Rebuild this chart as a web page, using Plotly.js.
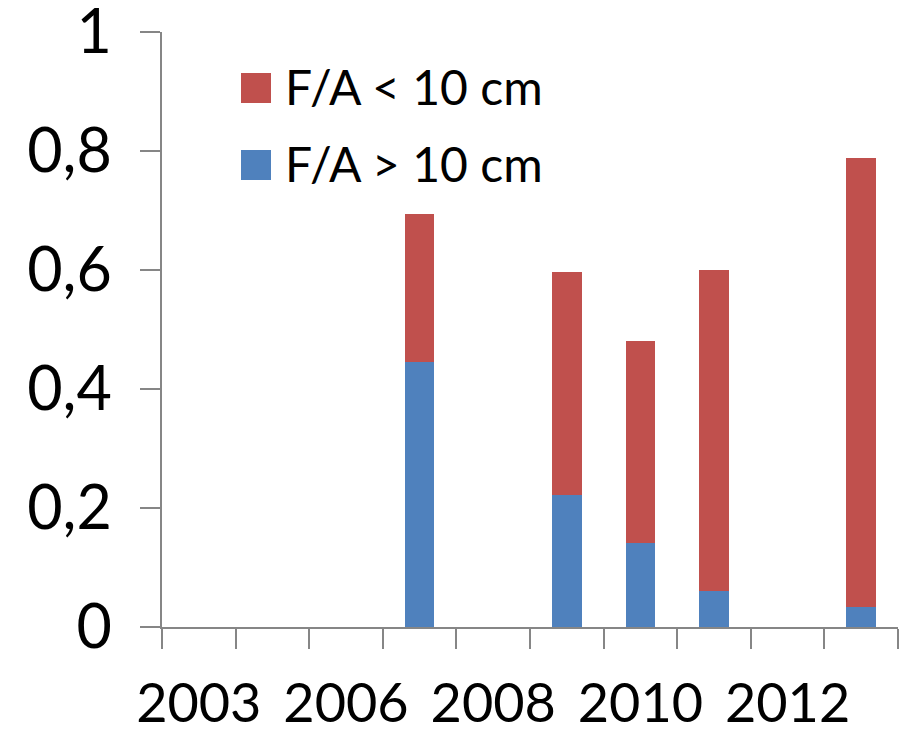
<!DOCTYPE html>
<html>
<head>
<meta charset="utf-8">
<script src="https://cdn.plot.ly/plotly-3.0.1.min.js"></script>
<style>html,body{margin:0;padding:0;background:#fff;}#chart{width:905px;height:730px;}</style>
</head>
<body>
<div id="chart"></div>
<script>
var years = ['2003','2004','2006','2007','2008','2009','2010','2011','2012','2013'];
var tickLabels = ['2003','','2006','','2008','','2010','','2012',''];
var above10 = [null,null,null,0.445,null,0.222,0.141,0.060,null,0.034];
var below10 = [null,null,null,0.249,null,0.375,0.340,0.540,null,0.754];
var seriesNames = ['F/A < 10 cm','F/A > 10 cm'];
var colRed = '#C0504D', colBlue = '#4F81BD';

var traces = [
  {type:'bar', x:years, y:above10, name:seriesNames[1], marker:{color:colBlue, line:{width:0}}, showlegend:false},
  {type:'bar', x:years, y:below10, name:seriesNames[0], marker:{color:colRed, line:{width:0}}, showlegend:false}
];

var font = 'Lato, "Open Sans", sans-serif';
var layout = {
  width:905, height:730,
  margin:{l:162, r:7, t:32, b:103},
  paper_bgcolor:'#fff', plot_bgcolor:'#fff',
  barmode:'stack', bargap:0.6,
  separators:',.',
  font:{family:font, color:'#000'},
  xaxis:{type:'category', categoryorder:'array', categoryarray:years,
    tickmode:'array', tickvals:years, ticktext:tickLabels, tickangle:0,
    tickson:'boundaries', ticks:'outside', ticklen:20, tickcolor:'#868686', tickwidth:2,
    showline:true, linecolor:'#868686', linewidth:2, showgrid:false, zeroline:false,
    tickfont:{size:54, family:font}, ticklabelstandoff:28, ticklabeloverflow:'allow'},
  yaxis:{range:[0,1], dtick:0.2, tick0:0, ticks:'outside', ticklen:20, tickcolor:'#868686', tickwidth:2,
    showline:true, linecolor:'#868686', linewidth:2, showgrid:false, zeroline:false,
    tickfont:{size:61, family:font}, ticklabelstandoff:16, ticklabeloverflow:'allow'},
  showlegend:false,
  shapes:[
    {type:'rect', xref:'paper', yref:'paper', x0:(241-162)/736, x1:(271-162)/736, y0:(627-103)/595, y1:(627-73)/595, fillcolor:colRed, line:{width:0}},
    {type:'rect', xref:'paper', yref:'paper', x0:(241-162)/736, x1:(271-162)/736, y0:(627-180)/595, y1:(627-150)/595, fillcolor:colBlue, line:{width:0}}
  ],
  annotations:[
    {xref:'paper', yref:'paper', x:(283-162)/736, y:(627-86)/595, xanchor:'left', yanchor:'middle', text:seriesNames[0], showarrow:false, font:{size:48, family:font, color:'#000'}},
    {xref:'paper', yref:'paper', x:(283-162)/736, y:(627-163)/595, xanchor:'left', yanchor:'middle', text:seriesNames[1], showarrow:false, font:{size:48, family:font, color:'#000'}}
  ]
};
Plotly.newPlot('chart', traces, layout, {displayModeBar:false, staticPlot:true});
</script>
</body>
</html>
